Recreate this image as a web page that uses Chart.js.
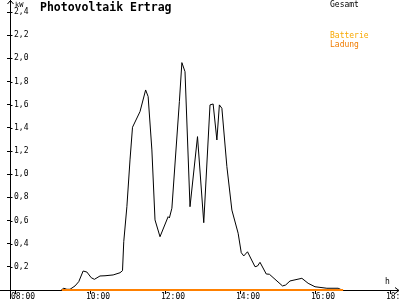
<!DOCTYPE html>
<html>
<head>
<meta charset="utf-8">
<script src="https://cdn.jsdelivr.net/npm/chart.js@4.4.1/dist/chart.umd.min.js"></script>
<style>
  html, body { margin: 0; padding: 0; background: #fff; }
  #wrap { width: 400px; height: 300px; }
</style>
</head>
<body>
<div id="wrap"><canvas id="chartCanvas" width="400" height="300"></canvas></div>
<script>
const times = ["09:14","09:18","09:23","09:28","09:36","09:42","09:49","09:55",
  "10:02","10:07","10:16","10:24","10:37","10:48","10:52","10:54","10:59",
  "11:04","11:08","11:20","11:29","11:33","11:39","11:44","11:52",
  "12:05","12:07","12:11","12:23","12:27","12:32","12:40","12:52",
  "13:02","13:12","13:17","13:23","13:27","13:31","13:39","13:47","13:57",
  "14:02","14:06","14:12","14:24","14:28","14:32","14:42","14:47",
  "15:08","15:13","15:20","15:39","15:49","16:00","16:19","16:32","16:37","16:43"];
const gesamt = [0, 0.015, 0.006, 0.006, 0.035, 0.072, 0.164, 0.155,
  0.106, 0.092, 0.121, 0.123, 0.130, 0.149, 0.167, 0.417, 0.719,
  1.123, 1.405, 1.540, 1.727, 1.670, 1.209, 0.605, 0.460,
  0.633, 0.622, 0.706, 1.626, 1.963, 1.885, 0.719, 1.324,
  0.581, 1.598, 1.606, 1.295, 1.598, 1.569, 1.065, 0.690, 0.490,
  0.322, 0.294, 0.330, 0.201, 0.207, 0.239, 0.138, 0.136,
  0.035, 0.043, 0.078, 0.101, 0.058, 0.028, 0.015, 0.015, 0.015, 0];

// Batterie-Ladung: liegt den ganzen Tag auf 0
const ladungTimes = ["09:15", "16:45"];
const ladung = [0, 0];

const xTicks = [8, 10, 12, 14, 16, 18];
const yTicks = [0, 0.2, 0.4, 0.6, 0.8, 1.0, 1.2, 1.4, 1.6, 1.8, 2.0, 2.2, 2.4];

const MONO = "'DejaVu Sans Mono', monospace";

function toHours(t){
    const p = t.split(":");
    return Number(p[0]) + Number(p[1]) / 60;
}

function toPoints(ts, vals){
    return ts.map((t, i) => ({ x: toHours(t), y: vals[i] }));
}

function hourLabel(v){
    return (v < 10 ? "0" : "") + v + ":00";
}

// Achsenpfeile vor den Linien, Titel und Legende danach
const decorPlugin = {
    id: "decor",
    beforeDatasetsDraw(chart){
        const ctx = chart.ctx;
        const area = chart.chartArea;
        const ax = Math.round(area.left) + 0.5;
        const ay = Math.round(area.bottom) + 0.5;

        ctx.save();
        ctx.strokeStyle = "#000";
        ctx.lineWidth = 1;
        ctx.beginPath();
        ctx.moveTo(0, ay); ctx.lineTo(399, ay);
        ctx.moveTo(ax, 299); ctx.lineTo(ax, 0);
        // Pfeil oben
        ctx.moveTo(ax - 3, 4); ctx.lineTo(ax, 0.5); ctx.lineTo(ax + 3, 4);
        // Pfeil rechts
        ctx.moveTo(395, ay - 3); ctx.lineTo(399, ay); ctx.lineTo(395, ay + 3);
        // kleine Striche rechts der y-Achse
        chart.scales.y.ticks.forEach(t => {
            if (t.value === 0) return;
            const py = Math.round(chart.scales.y.getPixelForValue(t.value)) + 0.5;
            ctx.moveTo(ax, py); ctx.lineTo(ax + 2, py);
        });
        ctx.stroke();
        ctx.restore();
    },
    afterDraw(chart){
        const ctx = chart.ctx;
        ctx.save();
        ctx.textBaseline = "middle";
        ctx.textAlign = "left";
        ctx.fillStyle = "#000";
        ctx.font = "7px " + MONO;
        ctx.fillText("kW", 15, 5);
        ctx.font = "8px " + MONO;
        ctx.fillText("h", 385, 282);

        ctx.font = "bold 11.5px " + MONO;
        ctx.fillText("Photovoltaik Ertrag", 40, 8);

        ctx.font = "8px " + MONO;
        ctx.fillText("Gesamt", 330, 4.5);
        ctx.fillStyle = "#f8a800";
        ctx.fillText("Batterie", 330, 36);
        ctx.fillStyle = "#f07c00";
        ctx.fillText("Ladung", 330, 44.5);
        ctx.restore();
    }
};

function showChart(){
    const ctx = document.getElementById("chartCanvas").getContext("2d");

    window.myChart = new Chart(ctx, {
        type: "line",
        data: {
            datasets: [{
                label: "Batterie Ladung",
                data: toPoints(ladungTimes, ladung),
                borderColor: "#ff8000",
                borderWidth: 2,
                pointRadius: 0,
                clip: false,
                order: 0
            }, {
                label: "Gesamt",
                data: toPoints(times, gesamt),
                borderColor: "#000",
                borderWidth: 1,
                pointRadius: 0,
                tension: 0,
                order: 1
            }]
        },
        options: {
            responsive: false,
            animation: false,
            layout: { padding: { left: 0, right: 10, top: 12, bottom: 0 } },
            plugins: {
                legend: { display: false },
                tooltip: { enabled: false }
            },
            scales: {
                x: {
                    type: "linear",
                    min: 8 - 5 / 37.5,
                    max: 18,
                    afterBuildTicks: s => { s.ticks = xTicks.map(v => ({ value: v })); },
                    afterFit: s => { s.height = 10; s.paddingLeft = 0; s.paddingRight = 0; },
                    grid: { drawOnChartArea: false, color: "#000", tickLength: 4 },
                    border: { color: "#000" },
                    ticks: {
                        autoSkip: false,
                        maxRotation: 0,
                        padding: -1,
                        labelOffset: 8,
                        color: "#000",
                        font: { family: MONO, size: 8, lineHeight: 1 },
                        callback: v => hourLabel(v)
                    }
                },
                y: {
                    min: 0,
                    max: 2.4,
                    afterBuildTicks: s => { s.ticks = yTicks.map(v => ({ value: v })); },
                    afterFit: s => { s.width = 10; s.paddingTop = 0; s.paddingBottom = 0; },
                    grid: { drawOnChartArea: false, color: "#000", tickLength: 3 },
                    border: { color: "#000" },
                    ticks: {
                        mirror: true,
                        padding: 4,
                        color: "#000",
                        font: { family: MONO, size: 8, lineHeight: 1 },
                        callback: v => v === 0 ? "" : v.toFixed(1).replace(".", ",")
                    }
                }
            }
        },
        plugins: [decorPlugin]
    });
}

showChart();
</script>
</body>
</html>
